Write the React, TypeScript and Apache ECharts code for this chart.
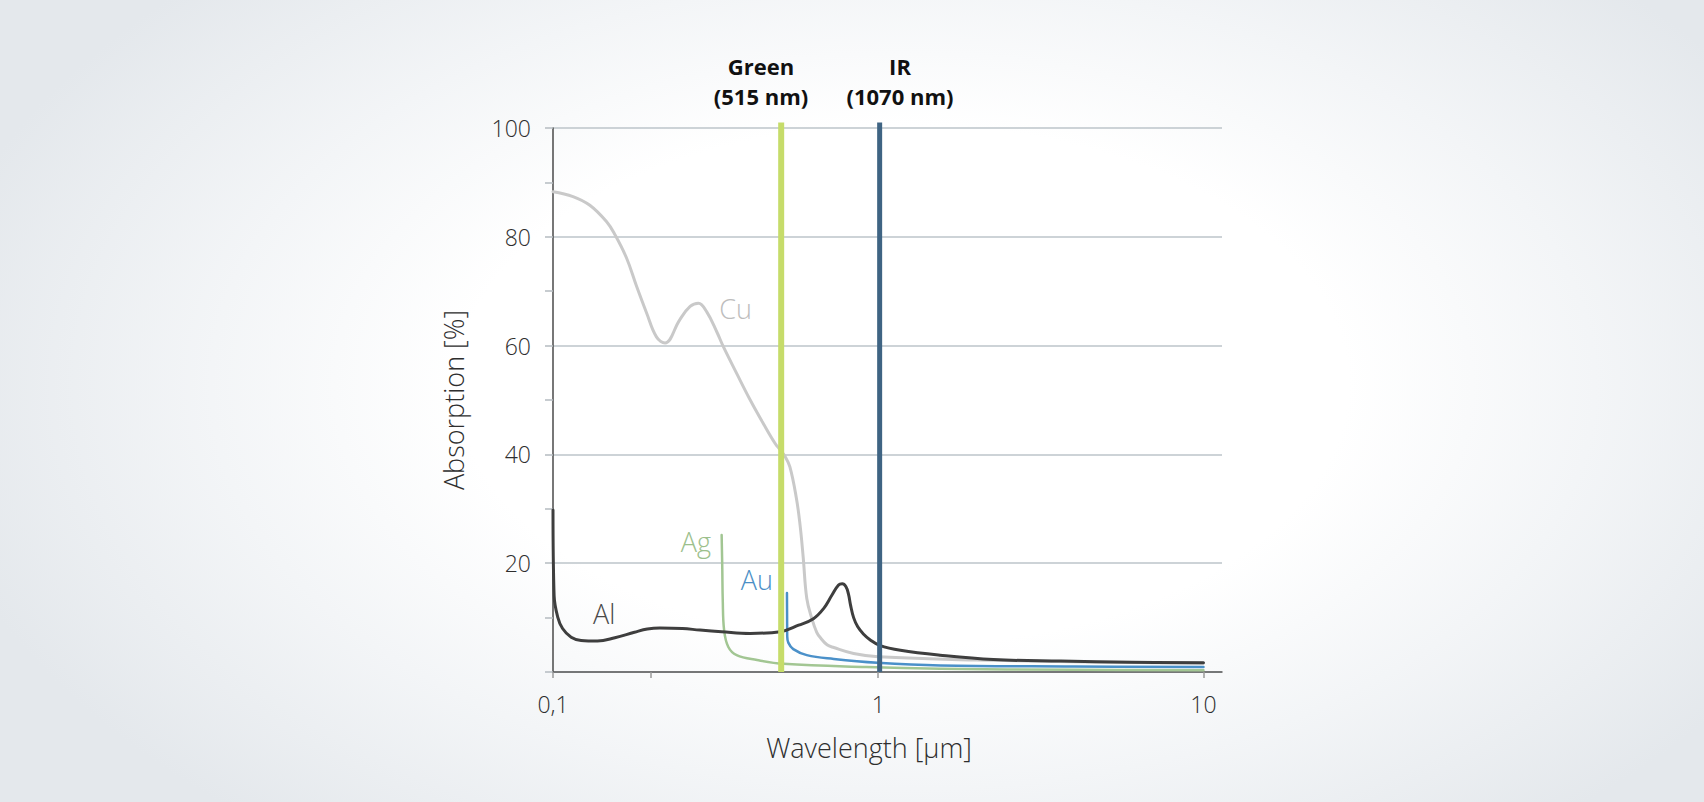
import React, { useEffect, useRef } from "react";
import * as echarts from "echarts";

// ---- data (wavelength in µm, absorption in %) ----
const cuX = [0.1, 0.1152, 0.1298, 0.146, 0.155, 0.1683, 0.1807, 0.194, 0.208, 0.221, 0.245, 0.264, 0.28, 0.297, 0.319, 0.334, 0.367, 0.404, 0.443, 0.482, 0.5, 0.517, 0.535, 0.56, 0.575, 0.588, 0.603, 0.625, 0.647, 0.664, 0.696, 0.73, 0.84, 1.0, 2, 5, 10];
const cuY = [88.3, 87.4, 85.8, 82.8, 80.4, 76.1, 70.9, 66.0, 61.6, 60.5, 64.7, 67.2, 67.8, 66.2, 62.5, 59.8, 54.9, 50.0, 45.7, 42.0, 40.8, 39.6, 37.7, 32.0, 27.0, 21.0, 13.5, 9.8, 7.3, 6.3, 5.0, 4.5, 3.4, 2.8, 2.2, 1.8, 1.6];

const alX = [0.1, 0.1008, 0.1034, 0.107, 0.1137, 0.122, 0.137, 0.155, 0.178, 0.195, 0.213, 0.25, 0.283, 0.33, 0.404, 0.5, 0.569, 0.632, 0.68, 0.72, 0.755, 0.775, 0.795, 0.81, 0.822, 0.84, 0.865, 0.9, 0.945, 1.01, 1.17, 1.55, 2.26, 3.64, 6, 10];
const alY = [29.8, 14.0, 10.1, 8.0, 6.4, 5.8, 5.7, 6.3, 7.3, 7.9, 8.1, 8.0, 7.7, 7.4, 7.1, 7.4, 8.6, 9.8, 11.7, 14.1, 16.0, 16.2, 15.7, 14.3, 12.3, 10.0, 8.3, 7.0, 5.9, 4.9, 4.0, 3.1, 2.3, 2.0, 1.8, 1.7];

const agX = [0.33, 0.3315, 0.3326, 0.3358, 0.346, 0.367, 0.424, 0.511, 0.92, 1.55, 4, 10];
const agY = [25.2, 19.0, 13.2, 7.7, 4.6, 3.1, 2.2, 1.5, 0.9, 0.6, 0.4, 0.3];

const auX = [0.524, 0.5245, 0.525, 0.529, 0.548, 0.603, 0.73, 0.994, 1.55, 4, 10];
const auY = [14.5, 10.0, 6.6, 5.4, 4.2, 3.1, 2.4, 1.7, 1.2, 1.0, 0.9];

// series label anchors [wavelength, absorption]
const cuLabelAt = [0.364, 66.9];
const alLabelAt = [0.1436, 10.75];
const agLabelAt = [0.275, 24.05];
const auLabelAt = [0.4233, 17.06];

// laser wavelength markers (as drawn on the chart)
const laserNames = ["Green", "IR"];
const laserSubs = ["(515 nm)", "(1070 nm)"];
const laserPos = [0.503, 1.01];
const laserTop = 101;

const xTickValues = [0.1, 0.2, 1, 10];
const xLabelValues = [0.1, 1, 10];
const xMax = 11.4;
const yTicks = { min: 0, max: 100, interval: 20 };

const FONT = "'Open Sans', 'Noto Sans', sans-serif";

const pairs = (xs: number[], ys: number[]) => xs.map((x, i) => [x, ys[i]]);

function curve(name: string, xs: number[], ys: number[], color: string, width: number, labelAt: number[], labelColor: string, z: number) {
  return {
    name,
    type: "line",
    data: pairs(xs, ys),
    showSymbol: false,
    symbol: "none",
    smooth: 0.4,
    z,
    lineStyle: { color, width, cap: "round", join: "round" },
    markPoint: {
      silent: true,
      symbol: "circle",
      symbolSize: 1,
      itemStyle: { color: "rgba(0,0,0,0)" },
      data: [{ coord: labelAt, name }],
      label: {
        show: true,
        position: "inside",
        formatter: name,
        color: labelColor,
        fontSize: 27,
        fontWeight: 300,
        fontFamily: FONT,
      },
    },
  };
}

function laser(i: number, color: string, width: number) {
  return {
    name: laserNames[i],
    type: "line",
    data: [
      [laserPos[i], 0],
      [laserPos[i], laserTop],
    ],
    showSymbol: false,
    symbol: "none",
    clip: false,
    z: 5,
    lineStyle: { color, width, cap: "butt" },
  };
}

export default function App() {
  const ref = useRef<HTMLDivElement>(null);

  useEffect(() => {
    document.body.style.margin = "0";
    if (!ref.current) return;
    const chart = echarts.init(ref.current, undefined, { renderer: "svg" });

    const headerX = [761, 900];
    const headerStyle = {
      fill: "#111",
      fontSize: 22,
      lineHeight: 22,
      fontWeight: "bold",
      fontFamily: FONT,
      align: "center",
      verticalAlign: "middle",
    };
    const option = {
      animation: false,
      backgroundColor: "transparent",
      grid: { left: 553, top: 128, right: 482, bottom: 130 },
      xAxis: {
        type: "log",
        logBase: 10,
        min: 0.1,
        max: xMax,
        name: "Wavelength [µm]",
        nameLocation: "middle",
        nameGap: 62,
        nameTextStyle: { fontSize: 27, fontWeight: 300, color: "#2e2e2e", fontFamily: FONT, padding: [0, 37, 0, 0] },
        axisLine: { show: true, onZero: false, lineStyle: { color: "#5a5a5a", width: 1.5 } },
        axisTick: { show: true, customValues: xTickValues, length: 6, lineStyle: { color: "#9a9a9a", width: 1.5 } },
        minorTick: { show: false },
        splitLine: { show: false },
        minorSplitLine: { show: false },
        axisLabel: {
          customValues: xLabelValues,
          formatter: (v: number) => String(v).replace(".", ","),
          margin: 20,
          fontSize: 23,
          fontWeight: 300,
          color: "#2e2e2e",
          fontFamily: FONT,
        },
      },
      yAxis: {
        type: "value",
        min: yTicks.min,
        max: yTicks.max,
        interval: yTicks.interval,
        name: "Absorption [%]",
        nameLocation: "middle",
        nameGap: 86,
        nameRotate: 90,
        nameTextStyle: { fontSize: 27, fontWeight: 300, color: "#2e2e2e", fontFamily: FONT },
        axisLine: { show: true, lineStyle: { color: "#4a4a4a", width: 1.5 } },
        axisTick: { show: true, length: 8, lineStyle: { color: "#b4bbc1", width: 1.5 } },
        minorTick: { show: true, splitNumber: 2, length: 8, lineStyle: { color: "#b4bbc1", width: 1.5 } },
        splitLine: { show: true, lineStyle: { color: "#bcc4ca", width: 1.5 } },
        axisLabel: { showMinLabel: false, margin: 22, fontSize: 23, fontWeight: 300, color: "#2e2e2e", fontFamily: FONT },
      },
      graphic: laserNames.flatMap((n, i) => [
        { type: "text", x: headerX[i], y: 66, silent: true, style: { ...headerStyle, text: n } },
        { type: "text", x: headerX[i], y: 96, silent: true, style: { ...headerStyle, text: laserSubs[i] } },
      ]),
      series: [
        curve("Cu", cuX, cuY, "#c9c9c9", 3, cuLabelAt, "#bdbdbd", 2),
        curve("Ag", agX, agY, "#a2c693", 2.5, agLabelAt, "#9cc08c", 3),
        curve("Au", auX, auY, "#4a90c9", 2.5, auLabelAt, "#4b8fc6", 3),
        curve("Al", alX, alY, "#3e3e3e", 3, alLabelAt, "#4a4a4a", 4),
        laser(0, "#c6dc6a", 6),
        laser(1, "#3f6483", 5),
      ],
    };
    chart.setOption(option as any);
    return () => chart.dispose();
  }, []);

  return (
    <div
      style={{
        width: 1704,
        height: 802,
        background:
          "radial-gradient(ellipse 58% 72% at 53% 48%, #ffffff 45%, #f3f5f7 70%, #e4e8ec 100%)",
      }}
    >
      <div ref={ref} style={{ width: 1704, height: 802 }} />
    </div>
  );
}
